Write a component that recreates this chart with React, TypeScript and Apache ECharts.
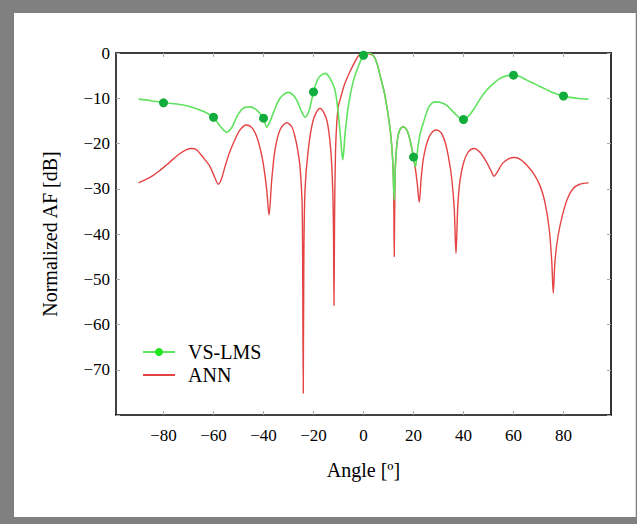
import React, { useEffect, useRef } from "react";
import * as echarts from "echarts";

// VS-LMS curve (angle in degrees, normalized AF in dB)
const vsAngle = [
  -90, -85.4, -80, -76, -72, -68.5, -65.4, -62.5, -60, -57.4, -54.7, -52.5, -50.7, -48.1, -45.4, -42.7, -40,
  -38.7, -37.3, -36.1, -33.4, -30.1, -28.3, -26.7, -24.7, -23.4, -21.7, -20, -18.1, -15.4, -13.4, -11.4,
  -10.1, -9.1, -8.3, -7.3, -6.1, -4.2, -2.1, 0, 2, 4, 5.5, 6.6, 8.5, 10.6, 11.6, 12.3, 12.8, 13.5, 14.5,
  15.9, 17.3, 18.5, 20, 20.8, 21.6, 22.6, 23.9, 25.9, 27.5, 29.3, 31.2, 33.3, 36.6, 38.5, 40, 41.6, 43.9,
  46.5, 49.3, 52, 54.6, 57.5, 60, 62.5, 65.3, 68, 70.6, 73.2, 75.9, 78, 80, 82.5, 85.3, 88, 90,
];
const vsAF = [
  -10.2, -10.5, -11.0, -11.2, -11.5, -12.0, -12.6, -13.3, -14.2, -16.1, -17.5, -16.3, -14.1, -12.2, -11.9, -12.6, -14.4,
  -16.4, -15.0, -13.3, -10.0, -8.7, -9.2, -10.4, -13.0, -14.2, -12.6, -8.6, -5.6, -4.5, -5.6, -8.2,
  -13.3, -19.2, -23.6, -17.5, -11.9, -6.5, -3.0, -0.5, 0, -0.6, -2.5, -4.9, -9.2, -16.6, -23.0, -32.5, -24.5, -19.5, -17.0,
  -16.3, -17.0, -19.0, -23.0, -25.1, -21.5, -18.0, -15.5, -12.2, -11.0, -10.8, -11.0, -11.6, -13.4, -14.4, -14.7, -14.2, -12.6,
  -10.3, -8.2, -6.7, -5.6, -5.0, -4.9, -5.2, -6.0, -6.7, -7.4, -8.1, -8.8, -9.2, -9.5, -9.8, -10.0, -10.15, -10.2,
];
// angles at which the VS-LMS curve carries a marker
const vsMarkerAngles = [-80, -60, -40, -20, 0, 20, 40, 60, 80];

// ANN curve
const annAngle = [
  -90, -85.4, -82, -78.7, -76, -73.4, -71, -68.7, -67, -65.4, -63.5, -61.4, -59.5, -58.1, -56.8, -55.4, -53.8,
  -52.1, -49.4, -46.7, -44.5, -42.7, -41.3, -40.1, -38.7, -37.8, -36.7, -35.4, -33.4, -30.7, -28.7, -27.4,
  -26.3, -25.4, -24.6, -24.35, -24.1, -23.85, -23.4, -22.1, -20.1, -17.4, -14.7, -13.1, -12.3, -12.0, -11.8,
  -11.55, -11.2, -10.7, -10.1, -9, -7.5, -5.4, -3.5, -2, 0, 1.5, 4, 5.5, 6.6, 8.5, 10.6, 11.6, 12.05, 12.3,
  12.55, 12.8, 13.5, 14.5, 15.9, 17.3, 18.5, 19.6, 20.6, 21.5, 22.3, 23.1, 24, 25.5, 27, 29, 31, 32.6, 34,
  35.3, 36.3, 37, 37.7, 38.6, 40, 42, 44.3, 46.5, 49, 51, 52.2, 53.6, 55.6, 58, 60.5, 63, 65.5, 68, 70.5,
  72.5, 74.3, 75.3, 75.9, 76.6, 77.8, 79.5, 81.5, 83.8, 86.5, 90,
];
const annAF = [
  -28.7, -27.5, -26.2, -24.7, -23.4, -22.2, -21.4, -21.1, -21.3, -22.2, -23.5, -25.1, -27.5, -29.0, -27.8, -25.1, -22.3,
  -20.0, -17.0, -15.9, -16.6, -18.5, -21.2, -24.4, -30.3, -35.8, -28.0, -21.4, -17.0, -15.4, -16.3, -18.5,
  -21.5, -25.1, -32.5, -45, -75.2, -45, -30.3, -21.4, -14.8, -12.2, -14.8, -21.4, -30.3, -40, -55.8,
  -35, -22, -15.5, -11.9, -9.6, -6.8, -4.1, -2.0, -0.6, 0, -0.1, -0.6, -2.5, -4.9, -9.2, -16.6, -23.0, -30, -45,
  -30, -24.5, -19.5, -17.0, -16.3, -17.0, -19.0, -21.8, -25.0, -28.8, -33.0, -27.5, -23.2, -19.6, -17.8, -17.0, -17.6, -19.6, -23.0,
  -27.8, -34.5, -44.3, -34, -28.2, -24.3, -21.8, -21.1, -21.9, -23.9, -26.0, -27.2, -26.2, -24.4, -23.4, -23.1, -23.6, -24.9, -26.6, -29.2,
  -32.8, -39.0, -46.0, -53.1, -46.0, -40.5, -36.0, -32.3, -30.0, -29.0, -28.7,
];

const xTickValues = [-80, -60, -40, -20, 0, 20, 40, 60, 80];
const yTickLabels = [0, -10, -20, -30, -40, -50, -60, -70];

const FONT = "'Liberation Serif', 'Times New Roman', serif";
const fmt = (v: number) => String(v).replace("-", "\u2212");

export default function App() {
  const ref = useRef<HTMLDivElement>(null);

  useEffect(() => {
    document.body.style.margin = "0";
    if (!ref.current) return;
    const chart = echarts.init(ref.current, undefined, { renderer: "svg" });

    const vsData = vsAngle.map((a, i) =>
      vsMarkerAngles.includes(a)
        ? { value: [a, vsAF[i]], symbol: "circle", symbolSize: 9, itemStyle: { color: "#12ad3c" } }
        : { value: [a, vsAF[i]], symbol: "none" }
    );
    const annData = annAngle.map((a, i) => [a, annAF[i]]);

    const tickStyle = { show: true, inside: true, length: 4, lineStyle: { color: "#aaaaaa", width: 1 } };

    chart.setOption({
      animation: false,
      backgroundColor: "#808080",
      graphic: [
        {
          type: "rect",
          z: -1,
          silent: true,
          shape: { x: 14, y: 13, width: 621.7, height: 504 },
          style: { fill: "#ffffff" },
        },
      ],
      grid: { left: 116, right: 26, top: 53, bottom: 109 },
      legend: {
        left: 142,
        top: 342,
        orient: "vertical",
        padding: 0,
        itemWidth: 32,
        itemHeight: 10,
        itemGap: 3,
        data: [
          { name: "VS-LMS" },
          { name: "ANN", itemStyle: { color: "rgba(0,0,0,0)", borderWidth: 0, opacity: 0 } },
        ],
        textStyle: { fontFamily: FONT, fontSize: 20, color: "#000", padding: [0, 0, 0, 8] },
      },
      xAxis: [
        {
          type: "value",
          min: -99,
          max: 99,
          position: "bottom",
          axisLine: { show: true, onZero: false, lineStyle: { color: "#000", width: 1.5 } },
          axisTick: { ...tickStyle, customValues: xTickValues },
          axisLabel: {
            customValues: xTickValues,
            formatter: (v: number) => fmt(v),
            fontFamily: FONT,
            fontSize: 17,
            color: "#000",
            margin: 12,
          },
          splitLine: { show: false },
          name: "Angle [º]",
          nameLocation: "middle",
          nameGap: 45,
          nameTextStyle: { fontFamily: FONT, fontSize: 20, color: "#000" },
        },
        {
          type: "value",
          min: -99,
          max: 99,
          position: "top",
          axisLine: { show: true, onZero: false, lineStyle: { color: "#000", width: 1.5 } },
          axisTick: { ...tickStyle, customValues: xTickValues },
          axisLabel: { show: false },
          splitLine: { show: false },
        },
      ],
      yAxis: [
        {
          type: "value",
          min: -80,
          max: 0,
          interval: 10,
          position: "left",
          axisLine: { show: true, onZero: false, lineStyle: { color: "#000", width: 1.5 } },
          axisTick: tickStyle,
          axisLabel: {
            formatter: (v: number) => (yTickLabels.includes(v) ? fmt(v) : ""),
            fontFamily: FONT,
            fontSize: 17,
            color: "#000",
            margin: 6,
          },
          splitLine: { show: false },
          name: "Normalized AF [dB]",
          nameLocation: "middle",
          nameGap: 56,
          nameTextStyle: { fontFamily: FONT, fontSize: 20, color: "#000" },
        },
        {
          type: "value",
          min: -80,
          max: 0,
          interval: 10,
          position: "right",
          axisLine: { show: true, onZero: false, lineStyle: { color: "#333", width: 2 } },
          axisTick: tickStyle,
          axisLabel: { show: false },
          splitLine: { show: false },
        },
      ],
      series: [
        {
          name: "ANN",
          type: "line",
          xAxisIndex: 0,
          yAxisIndex: 0,
          data: annData,
          showSymbol: false,
          symbol: "none",
          smooth: 0.3,
          z: 2,
          lineStyle: { color: "#e54444", width: 1.4 },
          itemStyle: { color: "#e54444" },
        },
        {
          name: "VS-LMS",
          type: "line",
          xAxisIndex: 0,
          yAxisIndex: 0,
          data: vsData,
          symbol: "circle",
          symbolSize: 9,
          showSymbol: true,
          showAllSymbol: true,
          smooth: 0.3,
          z: 3,
          lineStyle: { color: "#5fe35f", width: 1.6 },
          itemStyle: { color: "#1fe61f" },
        },
      ],
    });

    return () => chart.dispose();
  }, []);

  return <div ref={ref} style={{ position: "absolute", left: 0, top: 0, width: 637, height: 524 }} />;
}
